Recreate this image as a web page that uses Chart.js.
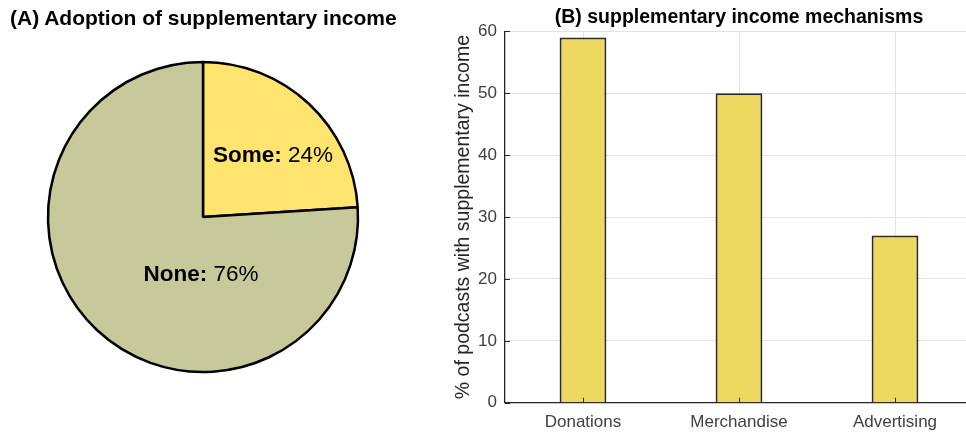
<!DOCTYPE html>
<html>
<head>
<meta charset="utf-8">
<script src="https://cdn.jsdelivr.net/npm/chart.js@4.4.1/dist/chart.umd.min.js"></script>
<style>
  html, body { margin: 0; padding: 0; background: #fff; overflow: hidden; }
  #wrap { position: relative; width: 966px; height: 437px; overflow: hidden; }
  #titleA { position: absolute; left: 10px; top: 6px; font: bold 21px "Liberation Sans", Arial, sans-serif; color: #000; white-space: nowrap; }
  #pieBox { position: absolute; left: 0; top: 0; width: 406px; height: 434px; }
  #barBox { position: absolute; left: 430px; top: 0; width: 560px; height: 437px; }
</style>
</head>
<body>
<div id="wrap">
  <div id="pieBox"><canvas id="pie"></canvas></div>
  <div id="titleA">(A) Adoption of supplementary income</div>
  <div id="barBox"><canvas id="bar"></canvas></div>
</div>
<script>
// ---- data ----
const pieLabels = ['Some', 'None'];
const pieValues = [24, 76];
const barCategories = ['Donations', 'Merchandise', 'Advertising'];
const barValues = [59, 50, 27];
const yTickMin = 0;
const yTickMax = 60;
const yTickStep = 10;

const FONT = '"Liberation Sans", Arial, sans-serif';

// Pie labels: bold name + normal percentage, anchored relative to radius
const pieLabelPlugin = {
  id: 'pieLabels',
  afterDatasetsDraw(chart, args, opts) {
    const ctx = chart.ctx;
    const meta = chart.getDatasetMeta(0);
    const anchors = opts.anchors;
    meta.data.forEach((arc, i) => {
      const r = arc.outerRadius;
      const cx = arc.x + anchors[i][0] * r;
      const cy = arc.y + anchors[i][1] * r;
      const bold = chart.data.labels[i] + ':';
      const rest = ' ' + chart.data.datasets[0].data[i] + '%';
      ctx.save();
      ctx.textBaseline = 'middle';
      ctx.fillStyle = '#000';
      ctx.font = 'bold 22.5px ' + FONT;
      const wb = ctx.measureText(bold).width;
      ctx.font = '22.5px ' + FONT;
      const wr = ctx.measureText(rest).width;
      let x = cx - (wb + wr) / 2;
      ctx.font = 'bold 22.5px ' + FONT;
      ctx.textAlign = 'left';
      ctx.fillText(bold, x, cy);
      ctx.font = '22.5px ' + FONT;
      ctx.fillText(rest, x + wb, cy);
      ctx.restore();
    });
  }
};

new Chart(document.getElementById('pie'), {
  type: 'pie',
  data: {
    labels: pieLabels,
    datasets: [{
      data: pieValues,
      backgroundColor: ['#FFE470', '#C8C99A'],
      borderColor: '#000',
      borderWidth: 2.5
    }]
  },
  options: {
    responsive: true,
    maintainAspectRatio: false,
    animation: false,
    radius: 155,
    layout: { padding: 0 },
    plugins: {
      legend: { display: false },
      tooltip: { enabled: false },
      pieLabels: { anchors: [[0.452, -0.394], [-0.013, 0.374]] }
    },
    events: []
  },
  plugins: [pieLabelPlugin]
});

// Inward tick marks (MATLAB style)
const inwardTicks = {
  id: 'inwardTicks',
  afterDatasetsDraw(chart) {
    const ctx = chart.ctx;
    const a = chart.chartArea;
    const xs = chart.scales.x, ys = chart.scales.y;
    ctx.save();
    ctx.strokeStyle = '#262626';
    ctx.lineWidth = 1;
    ctx.beginPath();
    ys.ticks.forEach((t, i) => {
      const y = Math.round(ys.getPixelForTick(i)) + 0.5;
      ctx.moveTo(a.left, y); ctx.lineTo(a.left + 5, y);
    });
    xs.ticks.forEach((t, i) => {
      const x = Math.round(xs.getPixelForTick(i)) + 0.5;
      ctx.moveTo(x, a.bottom); ctx.lineTo(x, a.bottom - 5);
    });
    ctx.stroke();
    ctx.restore();
  }
};

new Chart(document.getElementById('bar'), {
  type: 'bar',
  data: {
    labels: barCategories,
    datasets: [{
      data: barValues,
      backgroundColor: '#EDD960',
      borderColor: '#2b2b2b',
      borderWidth: 2,
      barPercentage: 0.3,
      categoryPercentage: 1
    }]
  },
  options: {
    responsive: true,
    maintainAspectRatio: false,
    animation: false,
    events: [],
    layout: { padding: { left: 0, right: 17, top: 0, bottom: 0 } },
    plugins: {
      legend: { display: false },
      tooltip: { enabled: false },
      title: {
        display: true,
        fullSize: false,
        text: '(B) supplementary income mechanisms',
        color: '#000',
        font: { family: FONT, size: 19.5, weight: 'bold', lineHeight: 1.2 },
        padding: { top: 6, bottom: 2 }
      }
    },
    scales: {
      x: {
        grid: { offset: false, color: '#e3e3e3', drawTicks: false },
        border: { color: '#262626', width: 1.3 },
        ticks: { color: '#404040', font: { family: FONT, size: 17 }, padding: 9, maxRotation: 0 },
        afterFit(s) { s.height = 34.3; }
      },
      y: {
        min: yTickMin,
        max: yTickMax,
        ticks: { stepSize: yTickStep, color: '#404040', font: { family: FONT, size: 17 }, padding: 8 },
        grid: { color: '#e3e3e3', drawTicks: false },
        border: { color: '#262626', width: 1.3 },
        title: {
          display: true,
          text: '% of podcasts with supplementary income',
          color: '#262626',
          font: { family: FONT, size: 19.5 },
          padding: { top: 22, bottom: 0 }
        },
        afterFit(s) { s.width = 75; }
      }
    }
  },
  plugins: [inwardTicks]
});
</script>
</body>
</html>
